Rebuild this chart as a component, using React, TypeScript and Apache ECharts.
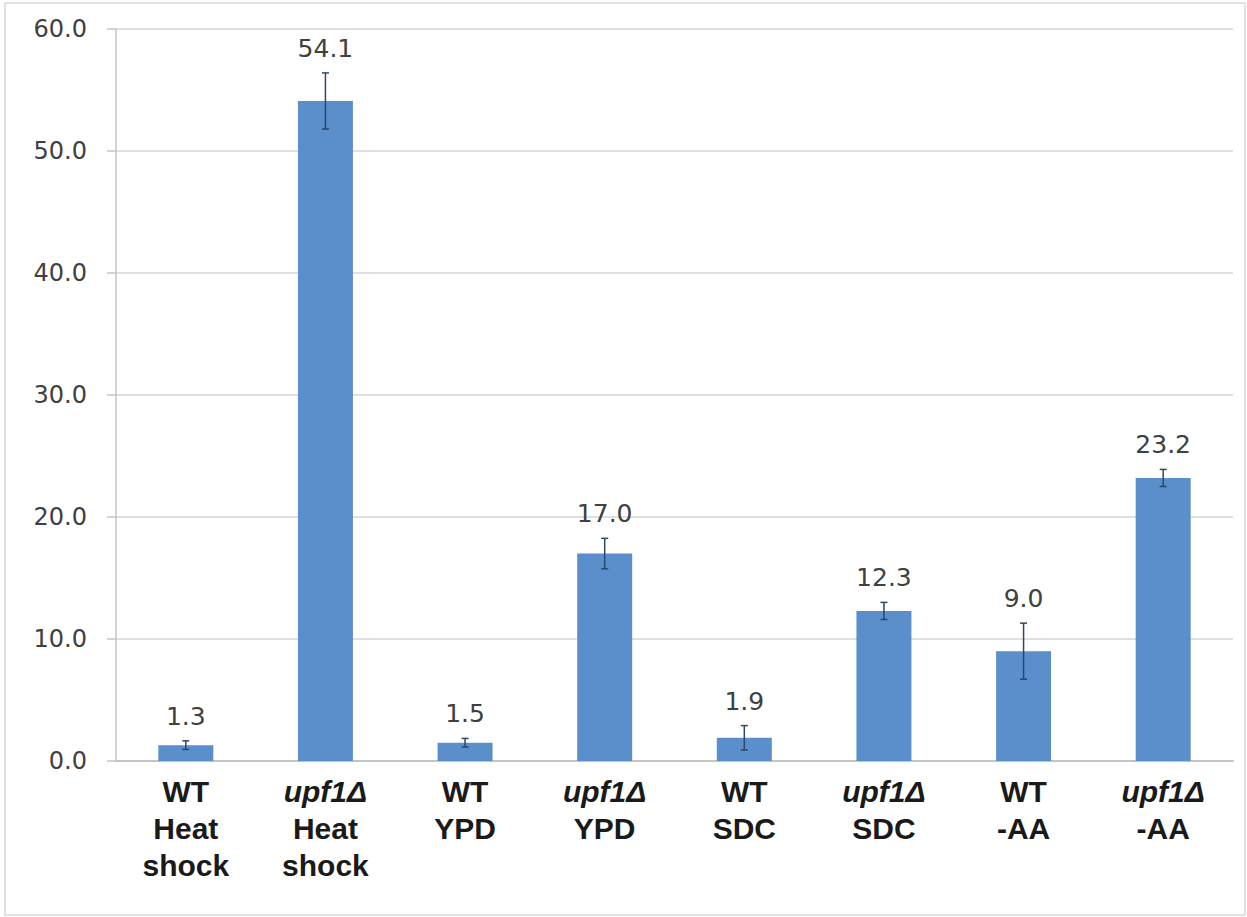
import React, { useEffect, useRef } from "react";
import * as echarts from "echarts";

// Conditions (first line = strain, rest = growth condition)
const categories = [
  "WT\nHeat\nshock",
  "upf1Δ\nHeat\nshock",
  "WT\nYPD",
  "upf1Δ\nYPD",
  "WT\nSDC",
  "upf1Δ\nSDC",
  "WT\n-AA",
  "upf1Δ\n-AA",
];
const values = [1.3, 54.1, 1.5, 17.0, 1.9, 12.3, 9.0, 23.2];
const errors = [0.35, 2.3, 0.35, 1.25, 1.0, 0.7, 2.3, 0.7];
const yTicks = [0, 10, 20, 30, 40, 50, 60];

const BAR_COLOR = "#5b8fcb";
const ERR_COLOR = "#2a4868";
const TEXT_COLOR = "#404040";

export default function App() {
  const ref = useRef<HTMLDivElement>(null);

  useEffect(() => {
    if (!ref.current) return;
    const chart = echarts.init(ref.current, undefined, { renderer: "svg" });

    const labelFont = "DejaVu Sans";

    chart.setOption({
      animation: false,
      backgroundColor: "#ffffff",
      graphic: [
        {
          type: "rect",
          shape: { x: 5, y: 3, width: 1240, height: 912 },
          style: { fill: "none", stroke: "#d9d9d9", lineWidth: 1.5 },
          silent: true,
        },
      ],
      grid: { left: 116, right: 14, top: 29, bottom: 156 },
      xAxis: {
        type: "category",
        data: categories,
        axisLine: { lineStyle: { color: "#c4c4c4", width: 2 } },
        axisTick: { show: false },
        axisLabel: {
          interval: 0,
          margin: 12,
          formatter: (val: string) =>
            val
              .split("\n")
              .map((l, i) => (i === 0 && l.startsWith("upf1") ? `{it|${l}}` : `{b|${l}}`))
              .join("\n"),
          rich: {
            b: {
              fontFamily: "Liberation Sans",
              fontWeight: "bold",
              fontSize: 30,
              lineHeight: 37,
              color: "#1a1a1a",
            },
            it: {
              fontFamily: "Liberation Sans",
              fontWeight: "bold",
              fontStyle: "italic",
              fontSize: 30,
              lineHeight: 37,
              color: "#1a1a1a",
            },
          },
        },
      },
      yAxis: {
        type: "value",
        min: yTicks[0],
        max: yTicks[yTicks.length - 1],
        interval: yTicks[1] - yTicks[0],
        axisLine: { show: true, lineStyle: { color: "#c4c4c4", width: 1.5 } },
        axisTick: { show: true, length: 9, lineStyle: { color: "#c4c4c4", width: 1.5 } },
        splitLine: { lineStyle: { color: "#d6d6d6", width: 1.5 } },
        axisLabel: {
          margin: 29,
          fontFamily: labelFont,
          fontSize: 24,
          color: TEXT_COLOR,
          formatter: (v: number) => v.toFixed(1),
        },
      },
      series: [
        {
          type: "bar",
          data: values,
          barWidth: 55,
          itemStyle: { color: BAR_COLOR },
          z: 2,
        },
        {
          type: "custom",
          data: values.map((v, i) => [i, v, errors[i]]),
          encode: { x: 0, y: 1 },
          z: 3,
          renderItem: (_params: any, api: any) => {
            const i = api.value(0);
            const v = api.value(1);
            const e = api.value(2);
            const top = api.coord([i, v + e]);
            const bot = api.coord([i, v - e]);
            const cap = 3.5;
            const lineStyle = { stroke: ERR_COLOR, lineWidth: 1.5 };
            return {
              type: "group",
              children: [
                { type: "line", shape: { x1: top[0], y1: top[1], x2: bot[0], y2: bot[1] }, style: lineStyle },
                { type: "line", shape: { x1: top[0] - cap, y1: top[1], x2: top[0] + cap, y2: top[1] }, style: lineStyle },
                { type: "line", shape: { x1: bot[0] - cap, y1: bot[1], x2: bot[0] + cap, y2: bot[1] }, style: lineStyle },
                {
                  type: "text",
                  x: top[0],
                  y: top[1] - 12,
                  style: {
                    text: v.toFixed(1),
                    align: "center",
                    verticalAlign: "bottom",
                    fontFamily: labelFont,
                    fontSize: 25,
                    fill: TEXT_COLOR,
                  },
                },
              ],
            };
          },
        },
      ],
    });

    return () => chart.dispose();
  }, []);

  return (
    <div
      ref={ref}
      style={{ position: "fixed", left: 0, top: 0, width: 1247, height: 917 }}
    />
  );
}
